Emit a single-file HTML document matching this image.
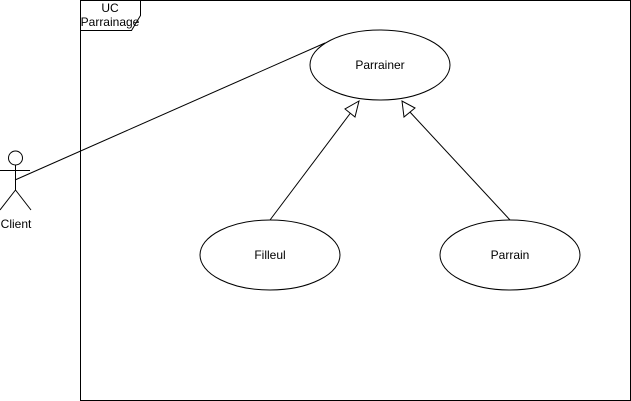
<!DOCTYPE html>
<html><head><style>body{margin:0;background:#fff}svg{display:block}</style></head><body>
<svg width="631" height="401" xmlns="http://www.w3.org/2000/svg" font-family="Liberation Sans, sans-serif" font-size="12">
<rect x="80.5" y="0.5" width="550" height="400" fill="#fff" stroke="#000"/>
<path d="M80.5 0.5 H140.5 V15.5 L131.5 30.5 H80.5 Z" fill="#fff" stroke="#000"/>
<text x="110" y="12" text-anchor="middle">UC</text>
<text x="110" y="26" text-anchor="middle">Parrainage</text>
<line x1="15" y1="180" x2="325" y2="43" stroke="#000"/>
<circle cx="15.5" cy="158" r="7" fill="#fff" stroke="#000"/>
<path d="M15.5 165 V190 M0 170.5 H30 M15.5 190 L0 210 M15.5 190 L31 210" fill="none" stroke="#000"/>
<text x="16" y="228" text-anchor="middle">Client</text>
<ellipse cx="380" cy="65" rx="70" ry="35" fill="#fff" stroke="#000"/>
<text x="380" y="69" text-anchor="middle">Parrainer</text>
<ellipse cx="270" cy="255" rx="70" ry="35" fill="#fff" stroke="#000"/>
<text x="270" y="259" text-anchor="middle">Filleul</text>
<ellipse cx="510" cy="255" rx="70" ry="35" fill="#fff" stroke="#000"/>
<text x="510" y="259" text-anchor="middle">Parrain</text>
<line x1="270" y1="220" x2="352" y2="111" stroke="#000"/>
<polygon points="359,101 345,109 355,117" fill="#fff" stroke="#000"/>
<line x1="510" y1="220" x2="409" y2="111" stroke="#000"/>
<polygon points="402,101 404,117 415,108" fill="#fff" stroke="#000"/>
</svg>
</body></html>
